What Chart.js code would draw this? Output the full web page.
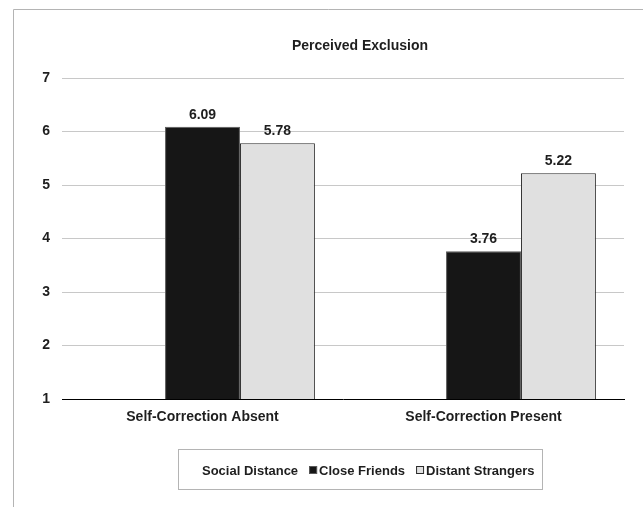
<!DOCTYPE html>
<html>
<head>
<meta charset="utf-8">
<script src="https://cdn.jsdelivr.net/npm/chart.js@4.4.1/dist/chart.umd.min.js"></script>
<style>
  html, body { margin: 0; padding: 0; background: #fff; overflow: hidden; }
  canvas { display: block; }
</style>
</head>
<body>
<canvas id="c" width="643" height="507"></canvas>
<script>
// ---- data ----
const chartTitle = 'Perceived Exclusion';
const conditions = ['Self-Correction Absent', 'Self-Correction Present'];
const legendHeading = 'Social Distance';
const seriesNames = ['Close Friends', 'Distant Strangers'];
const closeFriends = [6.09, 3.76];
const distantStrangers = [5.78, 5.22];
const yTicks = [1, 2, 3, 4, 5, 6, 7];

// ---- styling ----
const FONT = "'Liberation Sans', Arial, Helvetica, sans-serif";
const TEXT = '#1e1e1e';
const DARK_FILL = '#161616';
const LIGHT_FILL = '#e0e0e0';
const FRAME = '#b4b4b4';

// white page plus the outer frame (top and left edges)
const framePlugin = {
  id: 'frame',
  beforeDraw(chart) {
    const ctx = chart.ctx;
    ctx.save();
    ctx.fillStyle = '#fff';
    ctx.fillRect(0, 0, chart.width, chart.height);
    ctx.strokeStyle = FRAME;
    ctx.lineWidth = 1;
    ctx.beginPath();
    ctx.moveTo(13.5, chart.height);
    ctx.lineTo(13.5, 9.5);
    ctx.lineTo(chart.width, 9.5);
    ctx.stroke();
    ctx.restore();
  }
};

// value labels above each bar
const valueLabels = {
  id: 'valueLabels',
  afterDatasetsDraw(chart) {
    const ctx = chart.ctx;
    ctx.save();
    ctx.font = 'bold 14px ' + FONT;
    ctx.fillStyle = TEXT;
    ctx.textAlign = 'center';
    ctx.textBaseline = 'bottom';
    chart.data.datasets.forEach((ds, i) => {
      const meta = chart.getDatasetMeta(i);
      meta.data.forEach((el, j) => {
        const v = ds.data[j];
        if (v == null) return;
        ctx.fillText(v.toFixed(2), el.x, el.y - 5);
      });
    });
    ctx.restore();
  }
};

// title and boxed legend, centred on the full chart frame
const titleAndLegend = {
  id: 'titleAndLegend',
  afterDraw(chart) {
    const ctx = chart.ctx;
    ctx.save();
    ctx.fillStyle = TEXT;
    ctx.font = 'bold 14px ' + FONT;
    ctx.textAlign = 'center';
    ctx.textBaseline = 'middle';
    ctx.fillText(chartTitle, 360, 46);

    // legend frame
    ctx.strokeStyle = FRAME;
    ctx.lineWidth = 1;
    ctx.strokeRect(178.5, 449.5, 364, 40);

    ctx.font = 'bold 13px ' + FONT;
    ctx.textAlign = 'left';
    const y = 470;
    let x = 202;
    chart.data.datasets.forEach((ds, i) => {
      if (ds.data.some(v => v != null)) {
        // swatch
        ctx.fillStyle = ds.backgroundColor;
        ctx.fillRect(x, y - 4, 8, 8);
        ctx.strokeStyle = ds.borderColor;
        ctx.strokeRect(x + 0.5, y - 3.5, 7, 7);
        x += 10;
      }
      ctx.fillStyle = TEXT;
      ctx.fillText(ds.label, x, y + 1);
      x += ctx.measureText(ds.label).width + 11;
    });
    ctx.restore();
  }
};

new Chart(document.getElementById('c'), {
  type: 'bar',
  data: {
    labels: conditions,
    datasets: [
      {
        // heading entry of the legend; holds no bars but keeps its slot in each group
        label: legendHeading,
        data: conditions.map(() => null),
        backgroundColor: 'rgba(0,0,0,0)',
        borderColor: 'rgba(0,0,0,0)',
        borderWidth: 0
      },
      {
        label: seriesNames[0],
        data: closeFriends,
        backgroundColor: DARK_FILL,
        borderColor: '#5a5a5a',
        borderWidth: 1
      },
      {
        label: seriesNames[1],
        data: distantStrangers,
        backgroundColor: LIGHT_FILL,
        borderColor: '#2a2a2a',
        borderWidth: 1
      }
    ]
  },
  options: {
    responsive: false,
    animation: false,
    devicePixelRatio: 1,
    layout: { padding: { top: 78, right: 19, bottom: 0, left: 0 } },
    plugins: {
      legend: { display: false },
      title: { display: false },
      tooltip: { enabled: false }
    },
    datasets: {
      bar: { categoryPercentage: 0.8, barPercentage: 1.0, borderSkipped: 'start' }
    },
    scales: {
      x: {
        grid: { display: false, drawTicks: false },
        border: { display: true, color: '#000', width: 1 },
        ticks: {
          color: TEXT,
          font: { family: FONT, size: 14, weight: 'bold' },
          padding: 10,
          maxRotation: 0
        },
        afterFit(s) {
          s.height = 108;
          s.paddingLeft = 0;
          s.paddingRight = 0;
        }
      },
      y: {
        min: yTicks[0],
        max: yTicks[yTicks.length - 1],
        afterBuildTicks(s) {
          s.ticks = yTicks.map(v => ({ value: v }));
        },
        grid: {
          drawTicks: false,
          color: ctx => (ctx.tick && ctx.tick.value === yTicks[0]) ? 'rgba(0,0,0,0)' : '#c8c8c8',
          lineWidth: 1
        },
        border: { display: false },
        ticks: {
          color: TEXT,
          font: { family: FONT, size: 14, weight: 'bold' },
          padding: 12
        },
        afterFit(s) {
          s.width = 62;
          s.paddingTop = 0;
          s.paddingBottom = 0;
        }
      }
    }
  },
  plugins: [framePlugin, valueLabels, titleAndLegend]
});
</script>
</body>
</html>
